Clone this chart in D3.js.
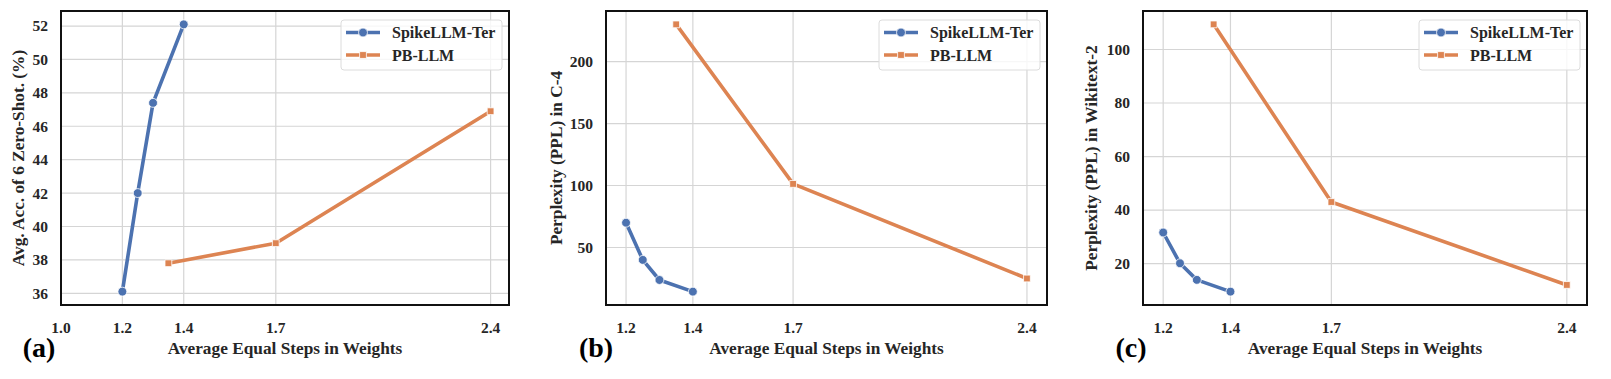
<!DOCTYPE html>
<html>
<head>
<meta charset="utf-8">
<script src="https://cdn.jsdelivr.net/npm/d3@7"></script>
<style>
  body { margin: 0; background: #fff; }
  svg text { font-family: "Liberation Serif", "Times New Roman", serif; font-weight: bold; fill: #262626; }
</style>
</head>
<body>
<svg id="chart" width="1611" height="379"></svg>
<script>
// x positions (average equal steps in weights)
const spikeSteps = [1.2, 1.25, 1.3, 1.4];
const pbSteps = [1.35, 1.7, 2.4];

// (a) average zero-shot accuracy
const accSpike = [36.1, 42.0, 47.4, 52.1];
const accPB = [37.8, 39.0, 46.9];
// (b) C-4 perplexity
const c4Spike = [70, 40, 23.8, 14.4];
const c4PB = [230, 101.3, 25];
// (c) Wikitext-2 perplexity
const wikiSpike = [31.6, 20.1, 13.9, 9.5];
const wikiPB = [109.4, 43, 12];

const xTicksA = [1.0, 1.2, 1.4, 1.7, 2.4];
const xTicksBC = [1.2, 1.4, 1.7, 2.4];
const yTicksA = [36, 38, 40, 42, 44, 46, 48, 50, 52];
const yTicksB = [50, 100, 150, 200];
const yTicksC = [20, 40, 60, 80, 100];

const seriesNames = ["SpikeLLM-Ter", "PB-LLM"];
const colors = ["#4C72B0", "#DD8452"];

const svg = d3.select("#chart");

const panels = [
  { left: 61, right: 509, label: "(a)", labelX: 39, ytitle: "Avg. Acc. of 6 Zero-Shot. (%)", ytitleX: 18,
    spike: accSpike, pb: accPB, xTicks: xTicksA, yTicks: yTicksA, xmin: 1.0 },
  { left: 606, right: 1047, label: "(b)", labelX: 596, ytitle: "Perplexity (PPL) in C-4", ytitleX: 556,
    spike: c4Spike, pb: c4PB, xTicks: xTicksBC, yTicks: yTicksB },
  { left: 1143, right: 1587, label: "(c)", labelX: 1131, ytitle: "Perplexity (PPL) in Wikitext-2", ytitleX: 1091,
    spike: wikiSpike, pb: wikiPB, xTicks: xTicksBC, yTicks: yTicksC }
];

const plotTop = 11, plotBottom = 305;

function pad(ext) {
  const m = (ext[1] - ext[0]) * 0.05;
  return [ext[0] - m, ext[1] + m];
}

panels.forEach(p => {
  const allX = spikeSteps.concat(pbSteps);
  let xd = pad(d3.extent(allX));
  if (p.xmin !== undefined) xd[0] = p.xmin;
  const x = d3.scaleLinear().domain(xd).range([p.left, p.right]);
  const y = d3.scaleLinear().domain(pad(d3.extent(p.spike.concat(p.pb)))).range([plotBottom, plotTop]);

  const g = svg.append("g");

  // grid
  g.selectAll(".vg").data(p.xTicks).enter().append("line")
    .attr("x1", d => x(d)).attr("x2", d => x(d))
    .attr("y1", plotTop).attr("y2", plotBottom)
    .attr("stroke", "#d5d5d5").attr("stroke-width", 1.2);
  g.selectAll(".hg").data(p.yTicks).enter().append("line")
    .attr("x1", p.left).attr("x2", p.right)
    .attr("y1", d => y(d)).attr("y2", d => y(d))
    .attr("stroke", "#d5d5d5").attr("stroke-width", 1.2);

  // tick labels
  g.selectAll(".xt").data(p.xTicks).enter().append("text")
    .attr("x", d => x(d)).attr("y", plotBottom + 28)
    .attr("text-anchor", "middle").style("font-size", "15.5px")
    .text(d => d3.format(".1f")(d));
  g.selectAll(".yt").data(p.yTicks).enter().append("text")
    .attr("x", p.left - 13).attr("y", d => y(d)).attr("dy", "0.35em")
    .attr("text-anchor", "end").style("font-size", "15.5px")
    .text(d => d);

  // axis titles
  g.append("text")
    .attr("x", (p.left + p.right) / 2).attr("y", plotBottom + 49)
    .attr("text-anchor", "middle").style("font-size", "17.3px")
    .text("Average Equal Steps in Weights");
  g.append("text")
    .attr("transform", `translate(${p.ytitleX},${(plotTop + plotBottom) / 2}) rotate(-90)`)
    .attr("text-anchor", "middle").attr("dy", "0.35em").style("font-size", "17.3px")
    .text(p.ytitle);
  g.append("text")
    .attr("x", p.labelX).attr("y", plotBottom + 52)
    .attr("text-anchor", "middle").style("font-size", "28px").style("fill", "#000")
    .text(p.label);

  // lines
  const line = d3.line().x(d => x(d[0])).y(d => y(d[1]));
  const series = [
    { pts: d3.zip(spikeSteps, p.spike), color: colors[0], marker: "circle" },
    { pts: d3.zip(pbSteps, p.pb), color: colors[1], marker: "square" }
  ];
  series.forEach(s => {
    g.append("path").datum(s.pts).attr("d", line)
      .attr("fill", "none").attr("stroke", s.color).attr("stroke-width", 3.6)
      .attr("stroke-linejoin", "round").attr("stroke-linecap", "round");
    const sym = d3.symbol().type(s.marker === "circle" ? d3.symbolCircle : d3.symbolSquare)
      .size(s.marker === "circle" ? 62 : 46);
    g.selectAll(null).data(s.pts).enter().append("path")
      .attr("d", sym)
      .attr("transform", d => `translate(${x(d[0])},${y(d[1])})`)
      .attr("fill", s.color).attr("stroke", "#fff").attr("stroke-width", 0.8);
  });

  // frame
  g.append("rect")
    .attr("x", p.left).attr("y", plotTop)
    .attr("width", p.right - p.left).attr("height", plotBottom - plotTop)
    .attr("fill", "none").attr("stroke", "#111").attr("stroke-width", 2);

  // legend
  const lw = 161, lh = 50;
  const lg = g.append("g").attr("transform", `translate(${p.right - 7 - lw},${plotTop + 9})`);
  lg.append("rect").attr("width", lw).attr("height", lh).attr("rx", 3)
    .attr("fill", "rgba(255,255,255,0.8)").attr("stroke", "#dcdcdc").attr("stroke-width", 1);
  seriesNames.forEach((name, i) => {
    const yy = 12.5 + i * 22.5;
    lg.append("line").attr("x1", 5).attr("x2", 39).attr("y1", yy).attr("y2", yy)
      .attr("stroke", colors[i]).attr("stroke-width", 3.6);
    const sym = d3.symbol().type(i === 0 ? d3.symbolCircle : d3.symbolSquare).size(i === 0 ? 62 : 46);
    lg.append("path").attr("d", sym).attr("transform", `translate(22,${yy})`)
      .attr("fill", colors[i]).attr("stroke", "#fff").attr("stroke-width", 0.8);
    lg.append("text").attr("x", 51).attr("y", yy).attr("dy", "0.35em")
      .style("font-size", "16px").text(name);
  });
});
</script>
</body>
</html>
